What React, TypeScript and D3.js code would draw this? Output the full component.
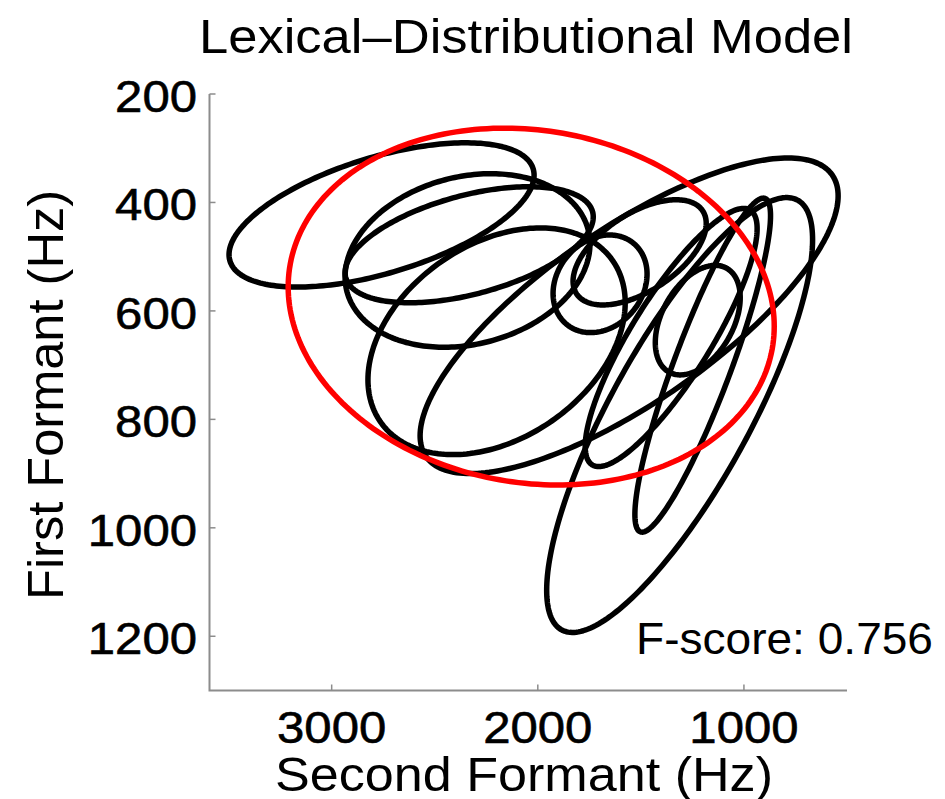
import React from "react";
import * as d3 from "d3";

// Axis domains (Hz) and ticks
const f2Domain: [number, number] = [3600, 500];
const f1Domain: [number, number] = [200, 1300];
const xTicks = [3000, 2000, 1000];
const yTicks = [200, 400, 600, 800, 1000, 1200];

// Learned vowel categories: mean F2, mean F1 (Hz), contour half-widths (Hz), F2/F1 correlation
const catF2 = [2758, 2341, 2333, 2200, 1557, 1698, 1506, 1312, 1200, 1353, 1224];
const catF1 = [423, 507, 478, 656, 609, 550, 492, 792, 700, 649, 617];
const catSpreadF2 = [740, 594, 602, 624, 1014, 228, 323, 645, 329, 417, 206];
const catSpreadF1 = [133, 160, 107, 209, 291, 90, 97, 401, 308, 238, 101];
const catCorr = [0.55, 0.19, 0.48, 0.34, 0.76, 0.2, 0.55, 0.806, 0.894, 0.843, 0.41];

// Single pooled category
const pooledF2 = [2032];
const pooledF1 = [592];
const pooledSpreadF2 = [1179];
const pooledSpreadF1 = [329];
const pooledCorr = [-0.11];

const fScore = 0.756;

const W = 945;
const H = 799;
const FONT = "'Liberation Sans', Arial, Helvetica, sans-serif";

const x = d3.scaleLinear().domain(f2Domain).range([208, 847]);
const y = d3.scaleLinear().domain(f1Domain).range([94, 690.5]);

function contour(mF2: number, mF1: number, sF2: number, sF1: number, rho: number) {
  const n = 240;
  const pts: [number, number][] = d3.range(n).map((i) => {
    const t = (i / n) * 2 * Math.PI;
    const a = Math.cos(t);
    const b = Math.sin(t);
    const f2 = mF2 + sF2 * a;
    const f1 = mF1 + sF1 * (rho * a + Math.sqrt(1 - rho * rho) * b);
    return [x(f2), y(f1)];
  });
  return d3.line().curve(d3.curveLinearClosed)(pts) || "";
}

export default function App() {
  const axisColor = "#8c8c8c";
  const left = 209.5;
  const bottom = 690.5;
  return (
    <svg
      width={W}
      height={H}
      style={{ position: "absolute", left: 0, top: 0, background: "#fff" }}
      fontFamily={FONT}
    >
      <rect x={0} y={0} width={W} height={H} fill="#fff" />
      {/* category contours */}
      {catF2.map((_, i) => (
        <path
          key={i}
          d={contour(catF2[i], catF1[i], catSpreadF2[i], catSpreadF1[i], catCorr[i])}
          fill="none"
          stroke="#000"
          strokeWidth={5.5}
          strokeLinejoin="round"
        />
      ))}
      {pooledF2.map((_, i) => (
        <path
          key={"p" + i}
          d={contour(pooledF2[i], pooledF1[i], pooledSpreadF2[i], pooledSpreadF1[i], pooledCorr[i])}
          fill="none"
          stroke="#ff0000"
          strokeWidth={5.5}
        />
      ))}

      {/* axes */}
      <path
        d={`M${left},${y(f1Domain[0])}V${bottom}H${x(f2Domain[1])}`}
        fill="none"
        stroke={axisColor}
        strokeWidth={2}
      />
      {xTicks.map((t) => (
        <g key={"x" + t}>
          <line x1={x(t)} x2={x(t)} y1={bottom} y2={bottom - 6} stroke={axisColor} strokeWidth={1.5} />
          <text
            x={x(t)}
            y={bottom + 52}
            textAnchor="middle"
            fontSize={45}
            stroke="#000"
            strokeWidth={0.6}
            textLength={String(t).length * 27.3}
            lengthAdjust="spacingAndGlyphs"
          >
            {t}
          </text>
        </g>
      ))}
      {yTicks.map((t) => (
        <g key={"y" + t}>
          <line x1={left} x2={left + 6} y1={y(t)} y2={y(t)} stroke={axisColor} strokeWidth={1.5} />
          <text
            x={197}
            y={y(t) + 18}
            textAnchor="end"
            fontSize={45}
            stroke="#000"
            strokeWidth={0.6}
            textLength={String(t).length * 27.3}
            lengthAdjust="spacingAndGlyphs"
          >
            {t}
          </text>
        </g>
      ))}

      {/* labels */}
      <text
        x={524}
        y={791}
        textAnchor="middle"
        fontSize={48}
        textLength={498}
        lengthAdjust="spacingAndGlyphs"
      >
        Second Formant (Hz)
      </text>
      <text
        transform="translate(63,395) rotate(-90)"
        textAnchor="middle"
        fontSize={50}
        textLength={410}
        lengthAdjust="spacingAndGlyphs"
      >
        First Formant (Hz)
      </text>
      <text
        x={526}
        y={53}
        textAnchor="middle"
        fontSize={49}
        textLength={654}
        lengthAdjust="spacingAndGlyphs"
      >
        Lexical–Distributional Model
      </text>
      <text x={636} y={654} fontSize={44} textLength={297} lengthAdjust="spacingAndGlyphs">
        {`F-score: ${fScore.toFixed(3)}`}
      </text>
    </svg>
  );
}
